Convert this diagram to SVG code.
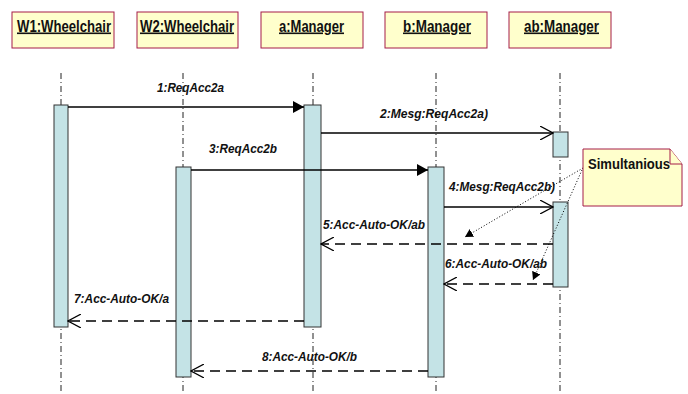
<svg xmlns="http://www.w3.org/2000/svg" width="688" height="394" viewBox="0 0 688 394">
<defs>
<style>
.hd{fill:#ffffcc;stroke:#a51c48;stroke-width:1}
.ht{font-family:"Liberation Sans",Arial,sans-serif;font-weight:bold;font-size:16px;fill:#111;text-decoration:underline}
.ll{stroke:#222;stroke-width:1;stroke-dasharray:6,3,1,3;fill:none}
.act{fill:#c4e3e6;stroke:#333;stroke-width:1}
.msg{stroke:#000;stroke-width:1.3;fill:none}
.ret{stroke:#000;stroke-width:1.3;fill:none;stroke-dasharray:10,6}
.lb{font-family:"Liberation Sans",Arial,sans-serif;font-weight:bold;font-style:italic;font-size:13.5px;fill:#111}
.note{fill:#ffffcc;stroke:#a51c48;stroke-width:1}
.dot{stroke:#000;stroke-width:1;stroke-dasharray:1,2;fill:none}
</style>
<marker id="fill" markerWidth="12" markerHeight="12" refX="11" refY="6" orient="auto" markerUnits="userSpaceOnUse"><path d="M0,0 L11,6 L0,12 z" fill="#000"/></marker>
<marker id="open" markerWidth="14" markerHeight="14" refX="13" refY="7" orient="auto" markerUnits="userSpaceOnUse"><path d="M0,0 L13,7 L0,14" fill="none" stroke="#000" stroke-width="1.2"/></marker>
<marker id="small" markerWidth="9" markerHeight="9" refX="8" refY="4.5" orient="auto" markerUnits="userSpaceOnUse"><path d="M0,0 L8,4.5 L0,9 z" fill="#000"/></marker>
</defs>
<rect width="688" height="394" fill="#fff"/>
<g id="W1">
<rect class="hd" x="12" y="12" width="102" height="36"/>
<text class="ht" x="17" y="31.5" textLength="94" lengthAdjust="spacingAndGlyphs">W1:Wheelchair</text>
<line class="ll" x1="61" y1="73" x2="61" y2="394"/>
<rect class="act" x="54" y="105" width="14" height="222"/>
</g>
<g id="W2">
<rect class="hd" x="137" y="12" width="101" height="36"/>
<text class="ht" x="140" y="31.5" textLength="94" lengthAdjust="spacingAndGlyphs">W2:Wheelchair</text>
<line class="ll" x1="183" y1="73" x2="183" y2="394"/>
<rect class="act" x="176" y="167" width="15" height="210"/>
</g>
<g id="a">
<rect class="hd" x="261" y="12" width="102" height="36"/>
<text class="ht" x="279" y="31.5" textLength="65" lengthAdjust="spacingAndGlyphs">a:Manager</text>
<line class="ll" x1="313" y1="73" x2="313" y2="394"/>
<rect class="act" x="304" y="105" width="17" height="222"/>
</g>
<g id="b">
<rect class="hd" x="385" y="12" width="102" height="36"/>
<text class="ht" x="403" y="31.5" textLength="68" lengthAdjust="spacingAndGlyphs">b:Manager</text>
<line class="ll" x1="436" y1="73" x2="436" y2="394"/>
<rect class="act" x="428" y="167" width="16" height="210"/>
</g>
<g id="ab">
<rect class="hd" x="509" y="12" width="102" height="36"/>
<text class="ht" x="524" y="31.5" textLength="75" lengthAdjust="spacingAndGlyphs">ab:Manager</text>
<line class="ll" x1="560" y1="73" x2="560" y2="394"/>
<rect class="act" x="553" y="132" width="15" height="25"/>
<rect class="act" x="553" y="202" width="15" height="85"/>
</g>
<g id="connectors">
<line class="msg" x1="68" y1="107" x2="304" y2="107" marker-end="url(#fill)"/>
<text class="lb" x="157" y="91.5" textLength="67" lengthAdjust="spacingAndGlyphs">1:ReqAcc2a</text>
<line class="msg" x1="321" y1="133" x2="553" y2="133" marker-end="url(#open)"/>
<text class="lb" x="380" y="117.5" textLength="108" lengthAdjust="spacingAndGlyphs">2:Mesg:ReqAcc2a)</text>
<line class="msg" x1="191" y1="170" x2="428" y2="170" marker-end="url(#fill)"/>
<text class="lb" x="209" y="153" textLength="68" lengthAdjust="spacingAndGlyphs">3:ReqAcc2b</text>
<line class="msg" x1="444" y1="207" x2="553" y2="207" marker-end="url(#open)"/>
<text class="lb" x="449" y="191" textLength="106" lengthAdjust="spacingAndGlyphs">4:Mesg:ReqAcc2b)</text>
<line class="ret" x1="553" y1="244" x2="321" y2="244" marker-end="url(#open)"/>
<text class="lb" x="323" y="229" textLength="102" lengthAdjust="spacingAndGlyphs">5:Acc-Auto-OK/ab</text>
<line class="ret" x1="553" y1="284" x2="444" y2="284" marker-end="url(#open)"/>
<text class="lb" x="445" y="268" textLength="102" lengthAdjust="spacingAndGlyphs">6:Acc-Auto-OK/ab</text>
<line class="ret" x1="304" y1="321" x2="68" y2="321" marker-end="url(#open)"/>
<text class="lb" x="74" y="303" textLength="95" lengthAdjust="spacingAndGlyphs">7:Acc-Auto-OK/a</text>
<line class="ret" x1="428" y1="371" x2="191" y2="371" marker-end="url(#open)"/>
<text class="lb" x="262" y="361" textLength="95" lengthAdjust="spacingAndGlyphs">8:Acc-Auto-OK/b</text>
<line class="dot" x1="583" y1="168" x2="465" y2="237" marker-end="url(#small)"/>
<line class="dot" x1="582" y1="170" x2="533" y2="280" marker-end="url(#small)"/>
</g>
<g id="note">
<path class="note" d="M583,149 L670,149 L682,164 L682,206 L583,206 Z"/>
<path class="note" d="M670,149 L670,164 L682,164"/>
<text x="588" y="169" textLength="82" lengthAdjust="spacingAndGlyphs" font-family="'Liberation Sans',Arial,sans-serif" font-weight="bold" font-size="14px" fill="#111">Simultanious</text>
</g>
</svg>
